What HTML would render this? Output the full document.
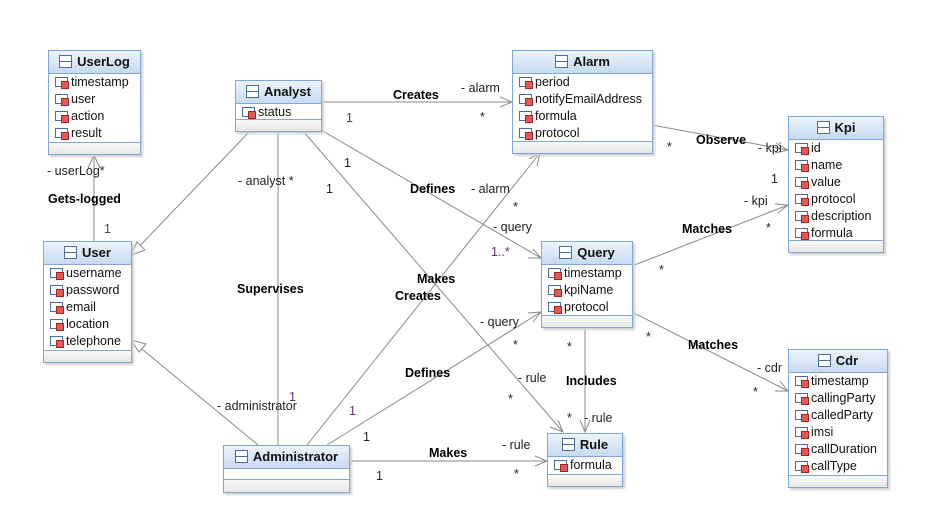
<!DOCTYPE html>
<html><head><meta charset="utf-8"><style>
body{margin:0;width:948px;height:525px;background:#fff;position:relative;overflow:hidden;font-family:"Liberation Sans",sans-serif;color:#111}
.box{position:absolute;border:1px solid #7fa7d7;background:#fff;box-shadow:2px 2px 2px #d0d0d0;box-sizing:border-box}
.h{height:22px;background:linear-gradient(#edf4fc,#c6daf2);border-bottom:1px solid #7fa7d7;font-weight:bold;text-align:center;line-height:22px;font-size:13px;white-space:nowrap}
.h i{display:inline-block;width:11px;height:11px;border:1px solid #4a6f9e;margin-right:5px;vertical-align:-2px;background:linear-gradient(#fff 0 45%,#4a6f9e 45% 55%,#fff 55%)}
.a{padding:0}
.r{height:17px;line-height:17px;padding-left:6px;font-size:12.5px;white-space:nowrap}
.r b{display:inline-block;width:11px;height:8px;border:1px solid #4a6f9e;margin-right:3px;position:relative;vertical-align:-1px}
.r b:after{content:"";position:absolute;left:5px;top:3px;width:6px;height:6px;background:#e05a5a;border:1px solid #a22}
.f{position:absolute;left:0;right:0;bottom:0;height:11px;border-top:1px solid #7fa7d7;background:linear-gradient(#fafafa,#e6e6e6)}
.t{position:absolute;font-size:12.5px;white-space:nowrap;color:#222}
.bl{font-weight:bold;color:#000}
.p{color:#603070}
svg{position:absolute;left:0;top:0}
</style></head><body>
<svg width="948" height="525" fill="none" stroke="#8a8a8a" stroke-width="1">
<line x1="94" y1="155" x2="94" y2="241"/><polyline points="88,168 94,155 100,168"/>
<line x1="250" y1="131" x2="131" y2="255"/><polygon points="131,255 137,242 145,250" fill="#fff"/>
<line x1="258" y1="445" x2="131" y2="340"/><polygon points="131,340 146,344 139,352" fill="#fff"/>
<line x1="278" y1="131" x2="278" y2="445"/>
<line x1="321" y1="102" x2="512" y2="102"/><polyline points="500,97 512,102 500,107"/>
<line x1="321" y1="130" x2="541" y2="258"/><polyline points="528,258 541,258 533,249"/>
<line x1="303" y1="131" x2="563" y2="432"/><polyline points="550,427 563,432 558,420"/>
<line x1="307" y1="445" x2="540" y2="153"/><polyline points="537,166 540,153 529,159"/>
<line x1="327" y1="445" x2="541" y2="312"/><polyline points="528,313 541,312 533,322"/>
<line x1="349" y1="461" x2="547" y2="461"/><polyline points="535,456 547,461 535,466"/>
<line x1="652" y1="125" x2="788" y2="150"/><polyline points="776,143 788,150 775,153"/>
<line x1="632" y1="266" x2="788" y2="205"/><polyline points="775,204 788,205 778,213"/>
<line x1="632" y1="312" x2="788" y2="391"/><polyline points="780,381 788,391 775,391"/>
<line x1="585" y1="328" x2="585" y2="432"/><polyline points="580,420 585,432 590,420"/>
</svg>

<div class="box" style="left:48px;top:50px;width:93px;height:105px"><div class="h"><i></i>UserLog</div><div class="a"><div class="r"><b></b>timestamp</div><div class="r"><b></b>user</div><div class="r"><b></b>action</div><div class="r"><b></b>result</div></div><div class="f"></div></div>
<div class="box" style="left:235px;top:80px;width:87px;height:52px"><div class="h"><i></i>Analyst</div><div class="a"><div class="r"><b></b>status</div></div><div class="f"></div></div>
<div class="box" style="left:512px;top:50px;width:141px;height:104px"><div class="h"><i></i>Alarm</div><div class="a"><div class="r"><b></b>period</div><div class="r"><b></b>notifyEmailAddress</div><div class="r"><b></b>formula</div><div class="r"><b></b>protocol</div></div><div class="f"></div></div>
<div class="box" style="left:788px;top:116px;width:96px;height:137px"><div class="h"><i></i>Kpi</div><div class="a"><div class="r"><b></b>id</div><div class="r"><b></b>name</div><div class="r"><b></b>value</div><div class="r"><b></b>protocol</div><div class="r"><b></b>description</div><div class="r"><b></b>formula</div></div><div class="f"></div></div>
<div class="box" style="left:43px;top:241px;width:89px;height:122px"><div class="h"><i></i>User</div><div class="a"><div class="r"><b></b>username</div><div class="r"><b></b>password</div><div class="r"><b></b>email</div><div class="r"><b></b>location</div><div class="r"><b></b>telephone</div></div><div class="f"></div></div>
<div class="box" style="left:541px;top:241px;width:92px;height:87px"><div class="h"><i></i>Query</div><div class="a"><div class="r"><b></b>timestamp</div><div class="r"><b></b>kpiName</div><div class="r"><b></b>protocol</div></div><div class="f"></div></div>
<div class="box" style="left:788px;top:349px;width:100px;height:139px"><div class="h"><i></i>Cdr</div><div class="a"><div class="r"><b></b>timestamp</div><div class="r"><b></b>callingParty</div><div class="r"><b></b>calledParty</div><div class="r"><b></b>imsi</div><div class="r"><b></b>callDuration</div><div class="r"><b></b>callType</div></div><div class="f"></div></div>
<div class="box" style="left:547px;top:433px;width:76px;height:54px"><div class="h"><i></i>Rule</div><div class="a"><div class="r"><b></b>formula</div></div><div class="f"></div></div>
<div class="box" style="left:223px;top:445px;width:127px;height:48px"><div class="h"><i></i>Administrator</div><div class="f" style="height:12px"></div></div>

<div class="t" style="left:47px;top:164px">- userLog*</div>
<div class="t bl" style="left:48px;top:192px">Gets-logged</div>
<div class="t p" style="left:104px;top:222px">1</div>
<div class="t" style="left:238px;top:174px">- analyst *</div>
<div class="t bl" style="left:237px;top:282px">Supervises</div>
<div class="t p" style="left:289px;top:390px">1</div>
<div class="t" style="left:217px;top:399px">- administrator</div>
<div class="t bl" style="left:393px;top:88px">Creates</div>
<div class="t" style="left:461px;top:81px">- alarm</div>
<div class="t p" style="left:346px;top:111px">1</div>
<div class="t" style="left:480px;top:110px">*</div>
<div class="t" style="left:344px;top:156px">1</div>
<div class="t" style="left:326px;top:182px">1</div>
<div class="t bl" style="left:410px;top:182px">Defines</div>
<div class="t" style="left:471px;top:182px">- alarm</div>
<div class="t" style="left:513px;top:200px">*</div>
<div class="t" style="left:493px;top:220px">- query</div>
<div class="t p" style="left:491px;top:245px">1..*</div>
<div class="t bl" style="left:417px;top:272px">Makes</div>
<div class="t bl" style="left:395px;top:289px">Creates</div>
<div class="t" style="left:480px;top:315px">- query</div>
<div class="t" style="left:513px;top:338px">*</div>
<div class="t bl" style="left:405px;top:366px">Defines</div>
<div class="t" style="left:518px;top:371px">- rule</div>
<div class="t" style="left:508px;top:392px">*</div>
<div class="t p" style="left:349px;top:404px">1</div>
<div class="t" style="left:363px;top:430px">1</div>
<div class="t bl" style="left:429px;top:446px">Makes</div>
<div class="t" style="left:502px;top:438px">- rule</div>
<div class="t" style="left:514px;top:467px">*</div>
<div class="t" style="left:376px;top:469px">1</div>
<div class="t" style="left:667px;top:140px">*</div>
<div class="t bl" style="left:696px;top:133px">Observe</div>
<div class="t" style="left:758px;top:141px">- kpi</div>
<div class="t" style="left:771px;top:172px">1</div>
<div class="t" style="left:744px;top:194px">- kpi</div>
<div class="t bl" style="left:682px;top:222px">Matches</div>
<div class="t" style="left:766px;top:221px">*</div>
<div class="t" style="left:659px;top:263px">*</div>
<div class="t" style="left:646px;top:330px">*</div>
<div class="t bl" style="left:688px;top:338px">Matches</div>
<div class="t" style="left:757px;top:361px">- cdr</div>
<div class="t" style="left:753px;top:385px">*</div>
<div class="t" style="left:567px;top:340px">*</div>
<div class="t bl" style="left:566px;top:374px">Includes</div>
<div class="t" style="left:567px;top:411px">*</div>
<div class="t" style="left:584px;top:411px">- rule</div>
</body></html>
